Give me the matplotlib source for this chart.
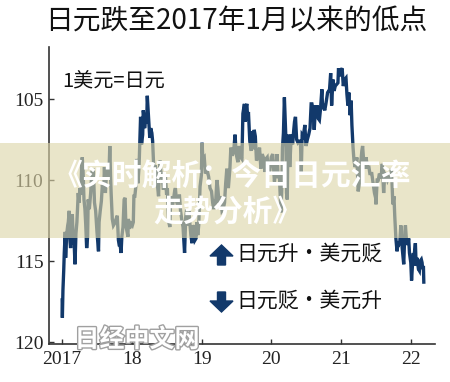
import matplotlib
matplotlib.use("Agg")
import matplotlib.pyplot as plt
import matplotlib.patheffects as pe
from matplotlib.patches import Rectangle, FancyArrow
import pandas as pd

plt.rcParams['font.family'] = ['Noto Sans CJK SC', 'DejaVu Sans']

# USD/JPY (axis inverted: yen stronger = up)
dates = [
    # 2017
    "2017-01-02", "2017-01-03", "2017-01-06", "2017-01-10", "2017-01-13", "2017-01-18", "2017-01-20",
    "2017-01-25", "2017-01-31", "2017-02-03", "2017-02-08", "2017-02-10", "2017-02-15", "2017-02-20",
    "2017-02-24", "2017-03-01", "2017-03-06", "2017-03-10", "2017-03-15", "2017-03-20", "2017-03-27",
    "2017-03-31", "2017-04-05", "2017-04-10", "2017-04-14", "2017-04-17", "2017-04-21", "2017-04-26",
    "2017-05-01", "2017-05-05", "2017-05-10", "2017-05-15", "2017-05-18", "2017-05-24", "2017-05-31",
    "2017-06-06", "2017-06-14", "2017-06-20", "2017-06-26", "2017-07-03", "2017-07-11", "2017-07-14",
    "2017-07-20", "2017-07-26", "2017-07-31", "2017-08-07", "2017-08-11", "2017-08-16", "2017-08-23",
    "2017-08-29", "2017-09-05", "2017-09-08", "2017-09-12", "2017-09-15", "2017-09-21", "2017-09-27",
    "2017-10-02", "2017-10-06", "2017-10-11", "2017-10-17", "2017-10-23", "2017-10-27", "2017-11-01",
    "2017-11-06", "2017-11-10", "2017-11-16", "2017-11-22", "2017-11-27", "2017-12-01", "2017-12-07",
    "2017-12-12", "2017-12-14", "2017-12-20", "2017-12-29",
    # 2018
    "2018-01-04", "2018-01-09", "2018-01-12", "2018-01-17", "2018-01-23", "2018-01-26", "2018-01-31",
    "2018-02-02", "2018-02-08", "2018-02-14", "2018-02-16", "2018-02-21", "2018-02-27", "2018-03-02",
    "2018-03-05", "2018-03-09", "2018-03-14", "2018-03-20", "2018-03-23", "2018-03-26", "2018-03-30",
    "2018-04-05", "2018-04-10", "2018-04-16", "2018-04-20", "2018-04-25", "2018-04-30", "2018-05-04",
    "2018-05-09", "2018-05-15", "2018-05-21", "2018-05-25", "2018-05-29", "2018-06-04", "2018-06-08",
    "2018-06-15", "2018-06-20", "2018-06-26", "2018-07-02", "2018-07-06", "2018-07-12", "2018-07-19",
    "2018-07-23", "2018-07-27", "2018-08-01", "2018-08-06", "2018-08-13", "2018-08-17", "2018-08-23",
    "2018-08-29", "2018-09-04", "2018-09-07", "2018-09-13", "2018-09-20", "2018-09-26", "2018-10-01",
    "2018-10-04", "2018-10-10", "2018-10-15", "2018-10-22", "2018-10-26", "2018-11-01", "2018-11-06",
    "2018-11-12", "2018-11-16", "2018-11-21", "2018-11-28", "2018-12-03", "2018-12-07", "2018-12-12",
    "2018-12-17", "2018-12-24", "2018-12-31",
    # 2019
    "2019-01-03", "2019-01-08", "2019-01-15", "2019-01-21", "2019-01-28", "2019-02-01", "2019-02-07",
    "2019-02-14", "2019-02-22", "2019-02-28", "2019-03-05", "2019-03-11", "2019-03-15", "2019-03-22",
    "2019-03-27", "2019-04-02", "2019-04-10", "2019-04-18", "2019-04-24", "2019-05-01", "2019-05-07",
    "2019-05-13", "2019-05-21", "2019-05-29", "2019-06-03", "2019-06-10", "2019-06-18", "2019-06-25",
    "2019-07-01", "2019-07-10", "2019-07-17", "2019-07-25", "2019-07-31", "2019-08-05", "2019-08-13",
    "2019-08-16", "2019-08-23", "2019-08-26", "2019-08-30", "2019-09-03", "2019-09-10", "2019-09-18",
    "2019-09-24", "2019-09-30", "2019-10-03", "2019-10-09", "2019-10-15", "2019-10-22", "2019-10-31",
    "2019-11-07", "2019-11-14", "2019-11-20", "2019-11-29", "2019-12-03", "2019-12-10", "2019-12-17",
    "2019-12-24", "2019-12-31",
    # 2020
    "2020-01-08", "2020-01-17", "2020-01-24", "2020-01-31", "2020-02-05", "2020-02-12", "2020-02-20",
    "2020-02-24", "2020-02-28", "2020-03-04", "2020-03-09", "2020-03-12", "2020-03-17", "2020-03-20",
    "2020-03-24", "2020-03-27", "2020-04-01", "2020-04-06", "2020-04-14", "2020-04-21", "2020-04-27",
    "2020-05-01", "2020-05-06", "2020-05-12", "2020-05-19", "2020-05-26", "2020-06-01", "2020-06-05",
    "2020-06-10", "2020-06-16", "2020-06-24", "2020-06-30", "2020-07-07", "2020-07-14", "2020-07-21",
    "2020-07-27", "2020-07-31", "2020-08-05", "2020-08-12", "2020-08-19", "2020-08-24", "2020-08-28",
    "2020-09-02", "2020-09-08", "2020-09-14", "2020-09-21", "2020-09-25", "2020-09-30", "2020-10-06",
    "2020-10-12", "2020-10-21", "2020-10-27", "2020-10-30", "2020-11-06", "2020-11-11", "2020-11-18",
    "2020-11-24", "2020-11-30", "2020-12-07", "2020-12-14", "2020-12-17", "2020-12-23", "2020-12-31",
    # 2021
    "2021-01-06", "2021-01-12", "2021-01-19", "2021-01-26", "2021-01-31", "2021-02-05", "2021-02-10",
    "2021-02-17", "2021-02-22", "2021-02-26", "2021-03-04", "2021-03-09", "2021-03-15", "2021-03-19",
    "2021-03-24", "2021-03-31", "2021-04-06", "2021-04-13", "2021-04-19", "2021-04-23", "2021-04-29",
    "2021-05-05", "2021-05-11", "2021-05-18", "2021-05-26", "2021-05-31", "2021-06-04", "2021-06-10",
    "2021-06-17", "2021-06-24", "2021-06-30", "2021-07-02", "2021-07-08", "2021-07-14", "2021-07-20",
    "2021-07-28", "2021-08-04", "2021-08-11", "2021-08-17", "2021-08-23", "2021-08-31", "2021-09-06",
    "2021-09-14", "2021-09-21", "2021-09-28", "2021-10-04", "2021-10-08", "2021-10-14", "2021-10-20",
    "2021-10-26", "2021-10-29", "2021-11-03", "2021-11-09", "2021-11-16", "2021-11-24", "2021-11-30",
    "2021-12-03", "2021-12-08", "2021-12-15", "2021-12-20", "2021-12-24", "2021-12-31",
    # 2022
    "2022-01-04", "2022-01-07", "2022-01-12", "2022-01-18", "2022-01-24", "2022-01-28", "2022-02-02",
    "2022-02-09", "2022-02-14", "2022-02-18", "2022-02-24", "2022-02-28", "2022-03-03", "2022-03-07",
    "2022-03-09",
]
usd_jpy = [
    # 2017
    117.4, 118.5, 116.8, 115.6, 114.5, 113.2, 114.8,
    113.4, 112.8, 112.6, 111.9, 113.5, 114.2, 113.1,
    112.1, 113.8, 114.0, 115.2, 113.3, 112.6, 110.8,
    111.4, 110.5, 110.9, 109.0, 108.6, 109.4, 111.2,
    111.8, 112.7, 114.2, 113.5, 111.2, 111.8, 110.8,
    109.5, 109.3, 111.4, 111.9, 113.2, 114.4, 112.6,
    111.9, 111.3, 110.3, 110.7, 109.2, 110.8, 109.3,
    109.8, 109.1, 107.9, 109.8, 110.8, 112.4, 112.8,
    112.7, 112.6, 112.4, 112.2, 113.7, 114.0, 114.0,
    114.5, 113.5, 112.9, 111.2, 111.1, 112.8, 113.2,
    113.5, 112.4, 113.0, 112.7,
    # 2018
    112.8, 112.6, 111.0, 111.0, 110.3, 108.7, 109.2,
    110.2, 109.2, 107.0, 106.1, 107.8, 107.2, 105.7,
    106.0, 106.8, 106.3, 106.5, 104.8, 105.4, 106.3,
    107.4, 106.8, 107.1, 107.6, 109.0, 109.3, 109.1,
    109.7, 110.3, 111.0, 109.4, 108.8, 109.9, 109.5,
    110.6, 110.3, 109.8, 110.9, 110.5, 112.5, 112.9,
    111.3, 111.0, 111.7, 111.3, 110.7, 110.5, 111.3,
    111.6, 111.4, 110.9, 111.9, 112.5, 112.9, 113.9,
    114.5, 112.3, 111.8, 112.8, 111.9, 112.7, 113.4,
    113.9, 112.8, 112.9, 113.7, 113.6, 112.6, 113.4,
    112.8, 110.4, 109.7,
    # 2019
    107.7, 108.7, 108.6, 109.6, 109.4, 109.5, 109.8,
    110.5, 110.7, 111.4, 111.8, 111.2, 111.5, 110.0,
    110.5, 111.4, 111.0, 111.9, 111.8, 111.4, 110.2,
    109.3, 110.5, 109.3, 108.0, 108.5, 108.2, 107.2,
    108.4, 108.9, 107.9, 108.6, 108.7, 105.9, 105.3,
    106.4, 105.4, 105.3, 106.3, 105.8, 107.6, 108.2,
    107.0, 108.1, 106.9, 107.3, 108.8, 108.6, 108.0,
    109.3, 108.4, 108.6, 109.5, 108.7, 108.6, 109.6,
    109.4, 108.6,
    # 2020
    108.4, 110.1, 109.3, 108.4, 109.8, 109.8, 112.0,
    110.7, 108.0, 107.1, 104.9, 105.9, 107.5, 110.8,
    111.2, 107.9, 107.2, 109.2, 107.2, 107.8, 106.9,
    106.4, 106.1, 107.5, 107.7, 107.6, 107.6, 109.6,
    107.2, 107.3, 106.6, 107.9, 107.5, 107.2, 106.8,
    105.3, 105.3, 105.6, 106.9, 105.4, 106.0, 105.4,
    106.2, 106.3, 105.6, 104.4, 105.6, 105.5, 105.7,
    105.3, 104.6, 104.5, 104.6, 103.4, 105.4, 103.8,
    104.5, 104.2, 104.1, 104.0, 103.1, 103.6, 103.2,
    # 2021
    103.1, 104.2, 103.8, 103.7, 104.7, 105.4, 104.6,
    106.0, 105.1, 106.6, 108.0, 108.8, 109.2, 108.9,
    108.6, 110.7, 110.2, 109.0, 108.2, 107.9, 108.9,
    109.3, 108.6, 109.2, 109.2, 109.6, 109.6, 109.6,
    110.2, 110.8, 111.1, 111.5, 110.0, 110.0, 109.6,
    109.9, 109.0, 110.8, 109.6, 109.7, 110.0, 109.8,
    110.0, 109.3, 111.5, 111.0, 112.2, 113.6, 114.4,
    113.8, 114.0, 113.9, 112.8, 114.2, 115.2, 113.2,
    112.8, 113.7, 114.0, 113.6, 114.5, 115.1,
    # 2022
    116.2, 115.6, 114.6, 114.6, 113.9, 115.3, 114.8,
    115.5, 115.6, 115.0, 114.9, 115.1, 115.5, 115.3,
    116.3,
]

year_ticks = [2017, 2018, 2019, 2020, 2021, 2022]
year_labels = ["2017", "18", "19", "20", "21", "22"]
yen_ticks = [105, 110, 115, 120]

title = "日元跌至2017年1月以来的低点"
unit_note = "1美元=日元"
legend_up = "日元升・美元贬"
legend_down = "日元贬・美元升"
banner_lines = ["《实时解析：今日日元汇率", "走势分析》"]
watermark = "日经中文网"

navy = "#12396b"

d = pd.to_datetime(dates)
x = d.year + (d.dayofyear - 1) / 365.0

fig = plt.figure(figsize=(4.5, 3.82), dpi=100)
ax = fig.add_axes([49 / 450, 1 - 344 / 382, (435 - 49) / 450, (344 - 47) / 382])

ax.plot(x, usd_jpy, color=navy, lw=2.4, solid_joinstyle="miter")

ax.set_xlim(2016.814, 2022.344)
ax.set_ylim(120.12, 101.79)
ax.set_xticks(year_ticks)
ax.set_xticklabels(year_labels)
ax.set_yticks(yen_ticks)

for s in ["top", "right"]:
    ax.spines[s].set_visible(False)
for s in ["left", "bottom"]:
    ax.spines[s].set_color("#333333")
    ax.spines[s].set_linewidth(1.2)

ax.tick_params(axis="both", direction="in", length=3.5, width=1.0, color="#333333",
               labelsize=14, labelcolor="#222222")
ax.tick_params(axis="x", pad=5)
ax.tick_params(axis="y", pad=4)
for lab in ax.get_xticklabels() + ax.get_yticklabels():
    lab.set_family("Liberation Serif")

# titles and notes
fig.text(45 / 450, 1 - 22 / 382, title, fontsize=20, color="#111111", va="center", ha="left")
fig.text(62 / 450, 1 - 81 / 382, unit_note, fontsize=14.5, color="#111111",
         va="center", ha="left")

# legend arrows and labels (arrow positions in inches from bottom-left)
fig.text(236 / 450, 1 - 254 / 382, legend_up, fontsize=15, color="#111111",
         va="center", ha="left")
fig.text(236 / 450, 1 - 301 / 382, legend_down, fontsize=15, color="#111111",
         va="center", ha="left")
fig.patches.append(FancyArrow(2.215, (382 - 265) / 100, 0, 0.2,
                              width=0.08, head_width=0.23, head_length=0.11,
                              length_includes_head=True, color=navy,
                              transform=fig.dpi_scale_trans, figure=fig))
fig.patches.append(FancyArrow(2.215, (382 - 292) / 100, 0, -0.2,
                              width=0.08, head_width=0.23, head_length=0.11,
                              length_includes_head=True, color=navy,
                              transform=fig.dpi_scale_trans, figure=fig))

# translucent banner overlay
fig.patches.append(Rectangle((0, 1 - 238 / 382), 1, 95 / 382, transform=fig.transFigure,
                             facecolor="#DDD5A8", alpha=0.62, edgecolor="none",
                             zorder=5, figure=fig))
fig.text(232 / 450, 1 - 176 / 382, banner_lines[0], fontsize=21.5, fontweight="bold",
         color="white", ha="center", va="center", zorder=6)
fig.text(228 / 450, 1 - 212 / 382, banner_lines[1], fontsize=21.5, fontweight="bold",
         color="white", ha="center", va="center", zorder=6)

# watermark
fig.text(137 / 450, 1 - 340 / 382, watermark, fontsize=18, fontweight="bold", color="white",
         ha="center", va="center", zorder=6,
         path_effects=[pe.withStroke(linewidth=2.0, foreground="#a0a0a0")])

fig.savefig("out.png", dpi=100)
